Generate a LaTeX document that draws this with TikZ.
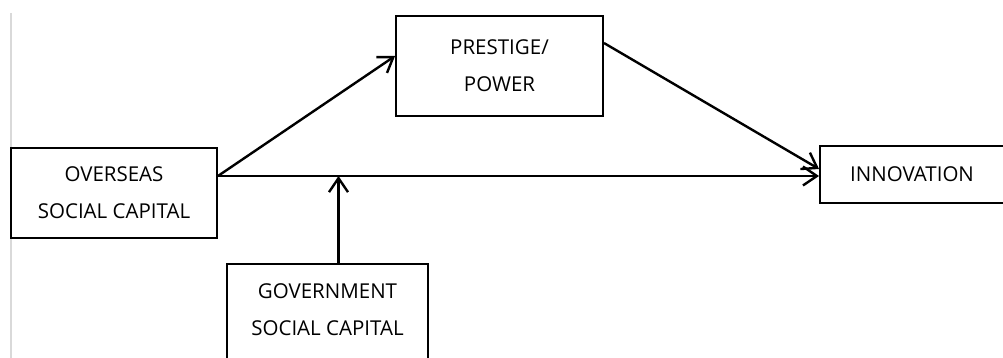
\documentclass[tikz,border=0pt]{standalone}
\usepackage{fontspec}
\setmainfont{Open Sans}
\usetikzlibrary{arrows.meta}

\begin{document}
\begin{tikzpicture}[x=1pt, y=-1pt, >={Straight Barb[length=14pt,width=19pt]},
    box/.style={draw, line width=1.9pt, align=center, inner sep=0pt,
      font=\fontsize{20.5}{37}\selectfont},
    arr/.style={->, line width=2.4pt}]
    \useasboundingbox (0, 0) rectangle (1003, 358);
    \draw[line width=2pt, black!15] (11, 13) -- (11, 358);
    \node[box, minimum width=206, minimum height=90] (ov) at (114, 193)
      {OVERSEAS\\SOCIAL CAPITAL};
    \node[box, minimum width=207, minimum height=100] (pp) at (499.5, 66)
      {PRESTIGE/\\POWER};
    \node[box, minimum width=184, minimum height=57] (inn) at (912, 174.5)
      {INNOVATION};
    \node[box, minimum width=201, minimum height=120, anchor=north] (gov)
      at (327.5, 263) {};
    \node[align=center, font=\fontsize{20.5}{37}\selectfont] (govtxt)
      at (327.5, 310) {GOVERNMENT\\SOCIAL CAPITAL};
    \coordinate (split) at ([yshift=17pt]ov.east);
    \coordinate (join) at ([xshift=11pt]gov.north |- split);
    \draw[arr] (split) -- ([yshift=10pt]pp.west);
    \draw[arr] ([yshift=23pt]pp.east) -- ([yshift=5.5pt]inn.west);
    \draw[arr] (split) -- (split -| inn.west);
    \draw[arr] ([xshift=11pt]gov.north) -- (join);
\end{tikzpicture}
\end{document}
